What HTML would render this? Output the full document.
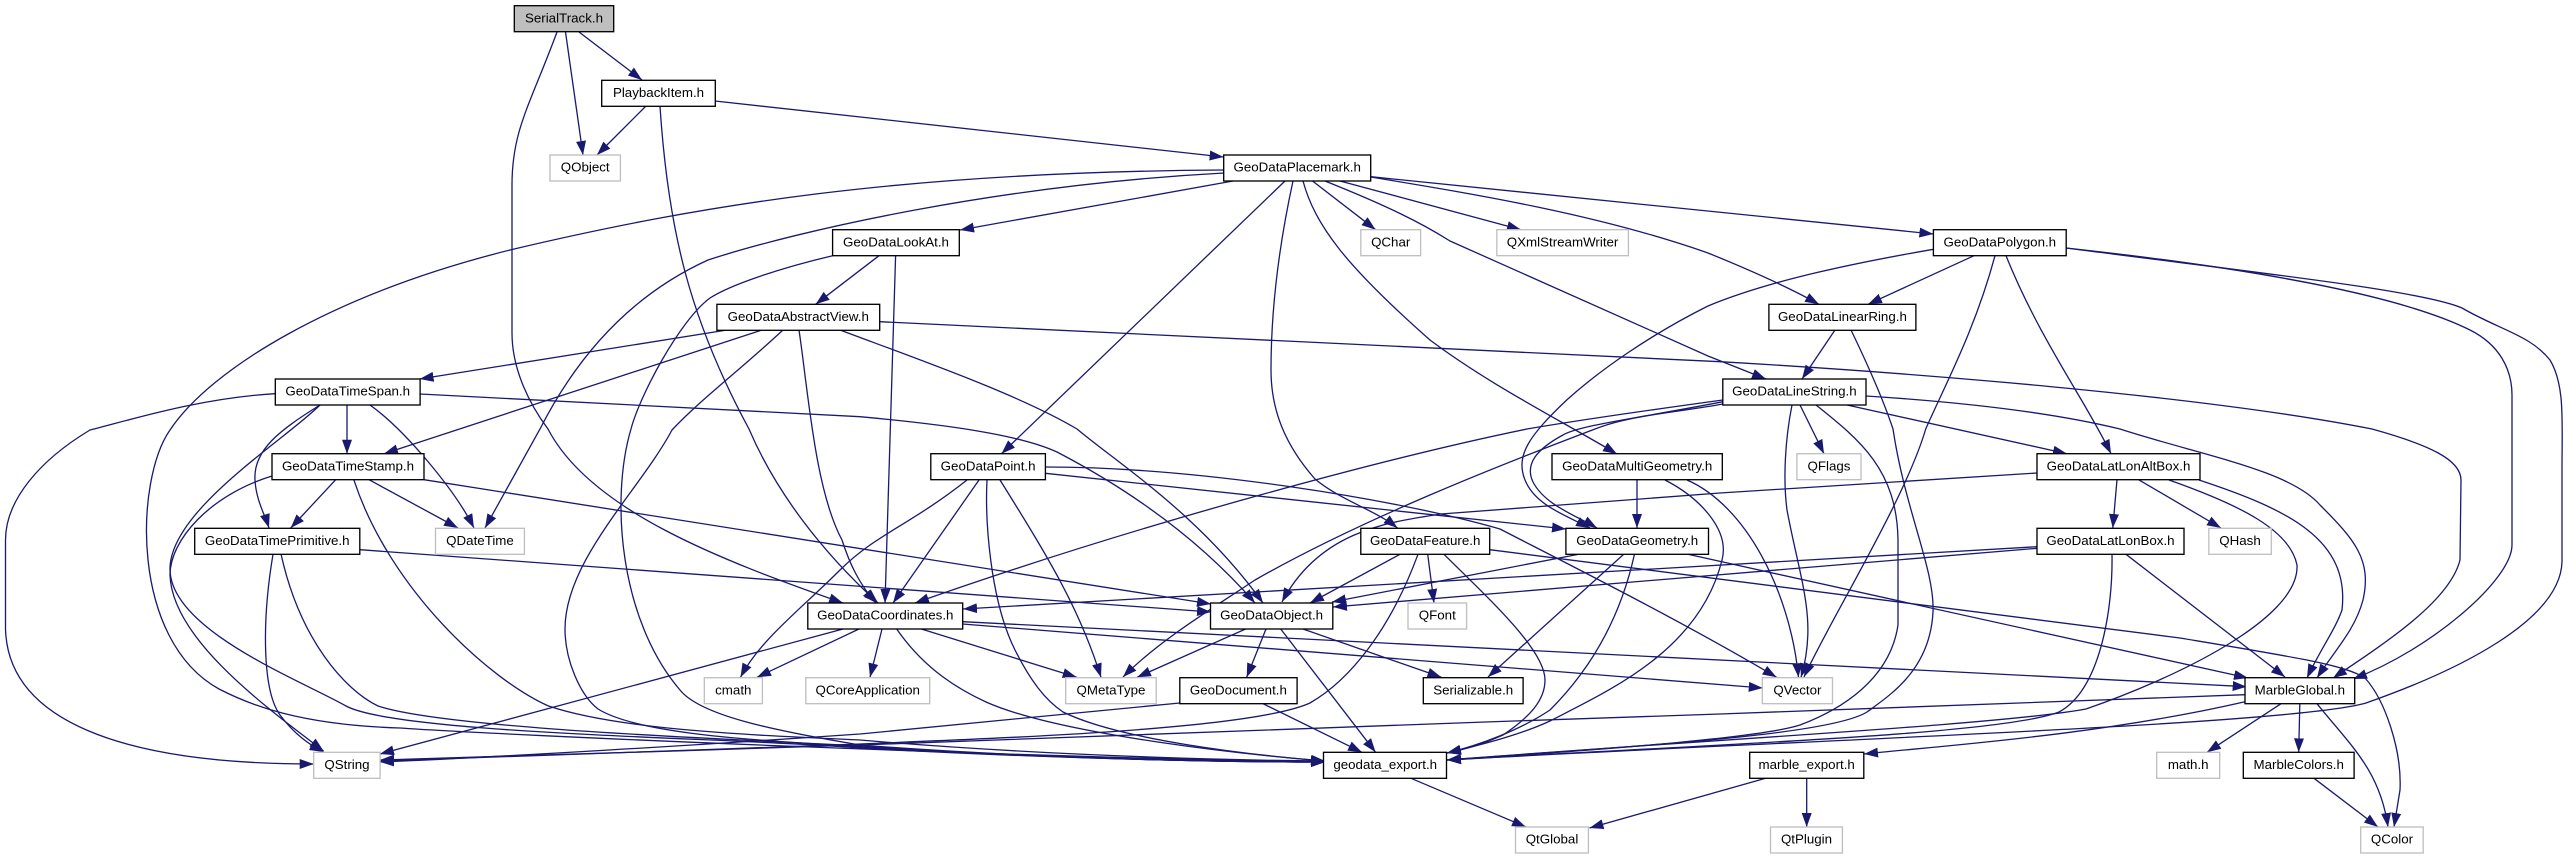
<!DOCTYPE html>
<html><head><meta charset="utf-8"><title>SerialTrack.h</title>
<style>html,body{margin:0;padding:0;background:#fff}svg{display:block}text{font-family:"Liberation Sans",Arial,sans-serif;font-size:13.33px;text-anchor:middle;fill:#000}</style></head>
<body>
<svg xmlns="http://www.w3.org/2000/svg" width="2568" height="859" viewBox="0 0 2568 859">
<defs><marker id="a" markerUnits="userSpaceOnUse" markerWidth="16" markerHeight="12" refX="14" refY="6" orient="auto"><path d="M0,1L14,6L0,11z" fill="#191970"/></marker></defs>
<g fill="none" stroke="#191970" stroke-width="1.3" marker-end="url(#a)">
<path d="M579,32L642,80"/>
<path d="M565.5,32L583,155"/>
<path d="M557,32C530,105 512,130 512,185L512,333C512,370 530,405 548,429C590,510 720,560 843,603"/>
<path d="M646,106L597,155"/>
<path d="M715,101L1223.6,157"/>
<path d="M660,106C668,230 690,320 749,429C775,490 820,550 878,603"/>
<path d="M1224,170C900,172 700,205 510,250C330,295 210,370 170,430C135,480 130,640 219,689C250,705 300,725 400,728C500,735 1000,757 1325,762"/>
<path d="M1224,173C1000,185 800,230 708,260C620,300 570,370 540,429L485,528"/>
<path d="M1233,181L960,230"/>
<path d="M1285,181L1001.5,453.7"/>
<path d="M1293,181C1278,250 1271,310 1271,370C1271,410 1285,445 1315,479C1340,500 1375,510 1397.5,528"/>
<path d="M1303,181C1315,225 1345,265 1430,340C1490,385 1560,420 1617,454"/>
<path d="M1312.5,181L1375.6,229.7"/>
<path d="M1340,181L1521,229.7"/>
<path d="M1325,181C1385,205 1420,222 1450,241L1708,356L1766,379"/>
<path d="M1370.7,177C1480,195 1600,215 1708,253C1750,270 1790,288 1819,304.3"/>
<path d="M1370.7,176.7L1933.4,234"/>
<path d="M1933.4,249.3C1860,262 1770,280 1708,306C1650,335 1600,370 1566.7,400C1530,435 1515,455 1525,480C1535,505 1565,515 1590,528"/>
<path d="M1974,255.7L1868,304.3"/>
<path d="M1995,255.7C1975,330 1945,385 1925.7,429C1905,500 1830,620 1804,677"/>
<path d="M2006,255.7C2040,340 2085,400 2111,453.7"/>
<path d="M2066,248C2250,268 2400,295 2470,330C2500,345 2512,370 2512,395L2512,545C2512,580 2430,650 2353,679"/>
<path d="M2066,248C2250,272 2420,290 2462,308C2500,330 2530,335 2550,360C2565,385 2562,420 2562,470L2562,562C2560,620 2460,670 2366,703C2290,725 1800,740 1447,760"/>
<path d="M1835,330L1802,379"/>
<path d="M1851,330C1880,390 1890,420 1893,429C1905,510 1935,570 1933,612C1930,670 1890,695 1867,712C1830,735 1650,745 1447,760"/>
<path d="M879,255.7L815.6,304.3"/>
<path d="M832.6,255.7C780,268 730,285 710,298C680,320 640,395 631,429C610,500 620,620 680,690C700,715 770,730 860,745C1000,756 1180,762 1325,762"/>
<path d="M895.6,255.7L885,603"/>
<path d="M727,330L419.6,379"/>
<path d="M762,330L384,453.7"/>
<path d="M783,330C740,370 700,400 672,430C640,490 565,560 565,629C565,660 580,695 598,709C640,735 760,740 860,747C1000,756 1180,762 1325,762"/>
<path d="M799,330C808,390 815,490 842,540C850,565 860,585 876,603"/>
<path d="M840,330C920,360 1020,395 1077,429C1120,465 1200,515 1263,603"/>
<path d="M879.7,321.7L1720,361.7C1900,372 2200,395 2372,429C2430,445 2461,460 2461,480L2460,560C2450,600 2390,640 2333,678"/>
<path d="M347,405L347,453.7"/>
<path d="M320,405C280,430 253,450 255,480C256,500 265,515 269,528"/>
<path d="M370,405C405,430 455,490 474,528"/>
<path d="M275,393.7C200,398 130,420 90,430C40,460 5.5,500 5.5,540L5.5,629C8,720 120,764 313.7,764"/>
<path d="M420,394L860,416.7C950,425 1020,435 1057,452C1130,490 1200,540 1255,603"/>
<path d="M320,405C285,440 170,510 170,569C170,630 300,680 346,706C400,735 750,738 860,748C1000,756 1180,762 1325,762"/>
<path d="M335.7,479.7L290.7,528"/>
<path d="M369,479.7L458,528"/>
<path d="M272,476C210,495 170,540 170,575C172,640 270,710 323.6,751"/>
<path d="M353.8,479.7C390,590 490,680 548.5,706C620,730 750,735 860,740C1000,752 1180,760 1325,761"/>
<path d="M424,479.7L1211,604"/>
<path d="M273,554.3C262,620 262,690 280,715C295,735 310,745 323.6,752"/>
<path d="M281,554C300,640 345,690 378,706C450,730 760,740 860,746C1000,756 1180,762 1325,762"/>
<path d="M360,549.7L1211,612"/>
<path d="M967,480C910,525 875,535 840,570C800,610 760,640 740.5,677.3"/>
<path d="M979,480L893,603"/>
<path d="M987,480C985,520 990,600 1015,650C1030,680 1045,700 1063,712C1120,740 1250,755 1325,761"/>
<path d="M1000,480C1050,560 1080,610 1101,677.3"/>
<path d="M1045.4,473.3L1566,529"/>
<path d="M1045.4,467C1200,467 1400,500 1500,529C1560,560 1680,620 1776.6,677.3"/>
<path d="M1637,480L1637,528"/>
<path d="M1665,480C1700,498 1730,530 1722,560C1700,650 1610,690 1550,721C1520,735 1480,745 1447,753"/>
<path d="M1687,480C1745,505 1790,590 1798.5,677.3"/>
<path d="M1580,554L1332,602"/>
<path d="M1624,554L1488,677"/>
<path d="M1634.5,554C1620,620 1590,670 1550,710C1520,730 1480,745 1447,753"/>
<path d="M1688,554.3L2248,678"/>
<path d="M2037,473L1720,493L1441,514C1390,522 1320,530 1282,602"/>
<path d="M2117,479.7L2112.8,528"/>
<path d="M2138.6,479.7L2221,528"/>
<path d="M2199,480C2290,510 2350,540 2342,610C2335,630 2320,650 2307,678"/>
<path d="M2169,480C2240,505 2290,530 2297,565C2300,620 2170,680 2086,709C2000,725 1700,740 1447,760"/>
<path d="M2037,546.7L963,609"/>
<path d="M2037,548.3L1333,607"/>
<path d="M2126,554.3L2285,677"/>
<path d="M2112,554.3C2113,610 2100,690 2059,712C2000,735 1700,745 1447,760"/>
<path d="M1400,554.3L1310,603"/>
<path d="M1427.7,554.3L1434,603"/>
<path d="M1444,554.3C1490,600 1545,650 1545,680C1545,700 1530,717 1503,735C1480,745 1470,748 1447,753"/>
<path d="M1418,554.3C1390,630 1350,680 1310,703C1250,730 1000,738 860,744C700,750 500,757 380,761"/>
<path d="M1489.7,549.7L2180,638C2300,658 2345,665 2365,678C2385,700 2402,750 2400,790L2394,827"/>
<path d="M1245.6,629L1137,677.3"/>
<path d="M1266,629L1246.7,677.3"/>
<path d="M1303,629L1441.4,677.3"/>
<path d="M1280.7,629L1375.6,752.3"/>
<path d="M1179.8,703L860,734C700,745 500,757 380,762"/>
<path d="M1263,703.7L1362,752.3"/>
<path d="M843,629L380,754"/>
<path d="M860,628.5L757,677.3"/>
<path d="M882,629L870,677.3"/>
<path d="M921.4,629L1076.7,677.3"/>
<path d="M896.7,629C925,670 960,690 986,702C1060,735 1250,755 1325,761"/>
<path d="M962.6,621.7L2246.7,686.7"/>
<path d="M962.6,624L1762.8,688"/>
<path d="M2245,694.7L1720,714C1400,725 1000,738 860,745C700,750 500,757 380,760"/>
<path d="M2245,701.7C2100,735 1950,745 1864,754"/>
<path d="M2281,703.7L2207,752.3"/>
<path d="M2299.8,703.7L2298.7,752.3"/>
<path d="M2317,703.7C2350,745 2380,770 2388,827"/>
<path d="M2314,778.3L2378,827"/>
<path d="M1806.7,778.3L1806.7,827"/>
<path d="M1765.6,778.3L1589.5,828"/>
<path d="M1411,778.3L1526,827"/>
<path d="M1723,401.7C1640,418 1580,425 1563,435C1535,450 1525,465 1533,482C1545,505 1575,515 1597,528"/>
<path d="M1722.8,400C1650,410 1580,420 1527,429C1400,455 1150,520 915,603"/>
<path d="M1722.8,404C1680,412 1630,415 1595,429C1500,465 1360,520 1255,580C1210,610 1160,640 1123,677"/>
<path d="M1800,405L1824,453.7"/>
<path d="M1792,405C1785,440 1783,480 1787,510C1800,580 1818,620 1801,677.3"/>
<path d="M1816,405C1860,440 1897,470 1898,540L1898,625C1890,680 1840,710 1800,725C1760,738 1600,750 1447,760"/>
<path d="M1847,405L2067,453.7"/>
<path d="M1866,396C1960,402 2050,412 2120,429C2200,455 2290,470 2320,505C2355,540 2372,560 2363,600C2355,630 2335,650 2317,678"/>
</g>
<g fill="#fff" stroke="#000" stroke-width="1.33">
<rect x="514.3" y="5.7" width="99.4" height="26" fill="#bfbfbf"/>
<rect x="601.7" y="80.3" width="113.6" height="26"/>
<rect x="1223.7" y="155" width="147" height="26"/>
<rect x="832.6" y="229.7" width="126.7" height="26"/>
<rect x="1933.4" y="229.7" width="132.8" height="26"/>
<rect x="716.9" y="304.3" width="162.8" height="26"/>
<rect x="1768.9" y="304.3" width="147" height="26"/>
<rect x="275.3" y="379" width="144.8" height="26"/>
<rect x="1722.8" y="379" width="143.2" height="26"/>
<rect x="272" y="453.7" width="152" height="26"/>
<rect x="930.8" y="453.7" width="114.6" height="26"/>
<rect x="1552" y="453.7" width="170.3" height="26"/>
<rect x="2037" y="453.7" width="163" height="26"/>
<rect x="194.7" y="528.3" width="165.1" height="26"/>
<rect x="1360.8" y="528.3" width="128.9" height="26"/>
<rect x="1565.9" y="528.3" width="142.6" height="26"/>
<rect x="2037" y="528.3" width="147" height="26"/>
<rect x="807.8" y="603" width="154.9" height="26"/>
<rect x="1210.5" y="603" width="122.3" height="26"/>
<rect x="1179.8" y="677.7" width="117.3" height="26"/>
<rect x="1423.3" y="677.7" width="99.8" height="26"/>
<rect x="2245" y="677.7" width="109.7" height="26"/>
<rect x="1323.5" y="752.3" width="123" height="26"/>
<rect x="1749.7" y="752.3" width="114.1" height="26"/>
<rect x="2243.3" y="752.3" width="110.8" height="26"/>
</g>
<g fill="#fff" stroke="#bfbfbf" stroke-width="1.33">
<rect x="550" y="155" width="70.4" height="26"/>
<rect x="1360.8" y="229.7" width="59.8" height="26"/>
<rect x="1496.8" y="229.7" width="131.6" height="26"/>
<rect x="1796.9" y="453.7" width="64.1" height="26"/>
<rect x="435.5" y="528.3" width="88.9" height="26"/>
<rect x="2208.8" y="528.3" width="62.5" height="26"/>
<rect x="1408" y="603" width="58.6" height="26"/>
<rect x="704.3" y="677.7" width="58.1" height="26"/>
<rect x="805.8" y="677.7" width="123.9" height="26"/>
<rect x="1065.7" y="677.7" width="90.5" height="26"/>
<rect x="1762.3" y="677.7" width="70.2" height="26"/>
<rect x="313.7" y="752.3" width="66.4" height="26"/>
<rect x="2156.7" y="752.3" width="63" height="26"/>
<rect x="1515.5" y="827" width="72.9" height="26"/>
<rect x="1770.5" y="827" width="71.9" height="26"/>
<rect x="2360.7" y="827" width="62.5" height="26"/>
</g>
<g transform="translate(0,-1.1)">
<text x="564" y="23.5">SerialTrack.h</text>
<text x="658.5" y="98">PlaybackItem.h</text>
<text x="585.2" y="172.8">QObject</text>
<text x="1297.2" y="172.8">GeoDataPlacemark.h</text>
<text x="896" y="247.5">GeoDataLookAt.h</text>
<text x="1390.7" y="247.5">QChar</text>
<text x="1562.6" y="247.5">QXmlStreamWriter</text>
<text x="1999.8" y="247.5">GeoDataPolygon.h</text>
<text x="798.3" y="322">GeoDataAbstractView.h</text>
<text x="1842.4" y="322">GeoDataLinearRing.h</text>
<text x="347.7" y="396.8">GeoDataTimeSpan.h</text>
<text x="1794.4" y="396.8">GeoDataLineString.h</text>
<text x="348" y="471.5">GeoDataTimeStamp.h</text>
<text x="988.1" y="471.5">GeoDataPoint.h</text>
<text x="1637.2" y="471.5">GeoDataMultiGeometry.h</text>
<text x="1829" y="471.5">QFlags</text>
<text x="2118.5" y="471.5">GeoDataLatLonAltBox.h</text>
<text x="277.2" y="546">GeoDataTimePrimitive.h</text>
<text x="480" y="546">QDateTime</text>
<text x="1425.2" y="546">GeoDataFeature.h</text>
<text x="1637.2" y="546">GeoDataGeometry.h</text>
<text x="2110.5" y="546">GeoDataLatLonBox.h</text>
<text x="2240" y="546">QHash</text>
<text x="885.3" y="620.8">GeoDataCoordinates.h</text>
<text x="1271.6" y="620.8">GeoDataObject.h</text>
<text x="1437.3" y="620.8">QFont</text>
<text x="733.3" y="695.5">cmath</text>
<text x="867.7" y="695.5">QCoreApplication</text>
<text x="1111" y="695.5">QMetaType</text>
<text x="1238.4" y="695.5">GeoDocument.h</text>
<text x="1473.2" y="695.5">Serializable.h</text>
<text x="1797.4" y="695.5">QVector</text>
<text x="2299.8" y="695.5">MarbleGlobal.h</text>
<text x="347" y="770">QString</text>
<text x="1385.2" y="770">geodata_export.h</text>
<text x="1806.7" y="770">marble_export.h</text>
<text x="2188.2" y="770">math.h</text>
<text x="2298.7" y="770">MarbleColors.h</text>
<text x="1552" y="844.8">QtGlobal</text>
<text x="1806.5" y="844.8">QtPlugin</text>
<text x="2392" y="844.8">QColor</text>
</g>
</svg>
</body></html>
